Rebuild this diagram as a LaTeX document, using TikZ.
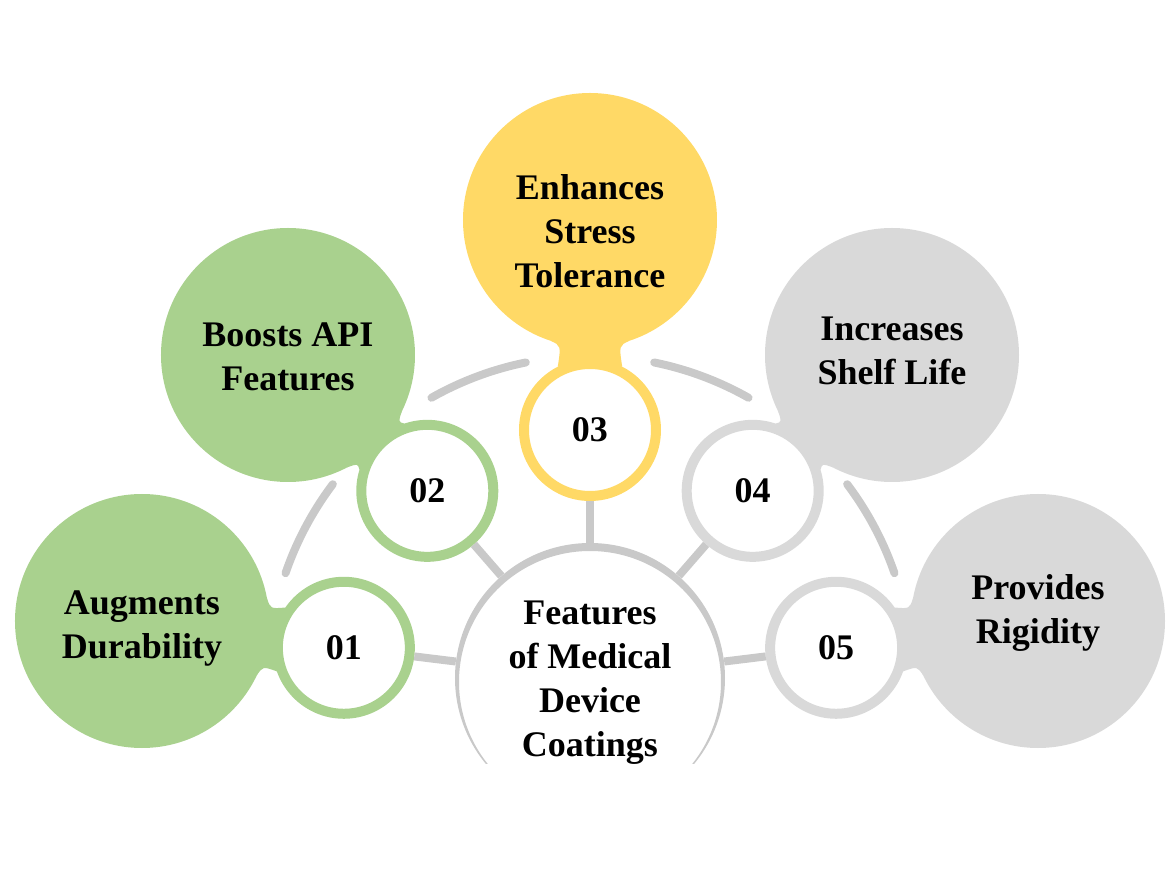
\documentclass[tikz,border=0pt]{standalone}
\usepackage{fontspec}
\setmainfont{Liberation Serif}
\usetikzlibrary{calc,backgrounds}

\definecolor{leafgreen}{HTML}{A9D18E}
\definecolor{sunyellow}{HTML}{FFD966}
\definecolor{softgray}{HTML}{D9D9D9}
\definecolor{linegray}{HTML}{C9C9C9}

\tikzset{
  label font/.style={font=\fontsize{36}{44}\selectfont\bfseries},
  bigcirc/.style={circle, minimum size=254pt, inner sep=0pt, fill=#1},
  bigtext/.style={align=center, label font},
  numring/.style={circle, minimum size=132pt, inner sep=0pt, draw=#1, line width=10pt, fill=white, label font},
  spoke/.style={linegray, line width=8pt},
  guide/.style={linegray, line width=8pt, line cap=round},
}

\begin{document}
\begin{tikzpicture}[x=1pt, y=1pt]
        \useasboundingbox (-590,-200) rectangle (580,678);

        % centre
        \node [circle, minimum size=270pt, inner sep=0pt] (ctr) at (0,0) {};
        \node [bigtext] (title) at ([yshift=-5pt]ctr.center) {Features\\of Medical\\Device\\Coatings};
        \begin{scope}
            \clip (-140,-85) rectangle (140,140);
            \fill [linegray, even odd rule] (0,0) circle (135) (0,-4) circle (131);
        \end{scope}

        % numbered rings
        \node [numring=leafgreen] (n1) at (173:248) {01};
        \node [numring=leafgreen] (n2) at (131:248) {02};
        \node [numring=sunyellow] (n3) at (90:248) {03};
        \node [numring=softgray] (n4) at (49:248) {04};
        \node [numring=softgray] (n5) at (7:248) {05};

        % feature circles
        \node [bigcirc=leafgreen] (b1) at (-448,57) {};
        \node [bigcirc=leafgreen] (b2) at (-302,323) {};
        \node [bigcirc=sunyellow] (b3) at (0,458) {};
        \node [bigcirc=softgray] (b4) at (302,323) {};
        \node [bigcirc=softgray] (b5) at (448,57) {};

        \node [bigtext] (t1) at ([yshift=-8pt]b1.center) {Augments\\Durability};
        \node [bigtext] (t2) at ([yshift=-2pt]b2.center) {Boosts API\\Features};
        \node [bigtext] (t3) at ([yshift=-11pt]b3.center) {Enhances\\Stress\\Tolerance};
        \node [bigtext] (t4) at ([yshift=4pt]b4.center) {Increases\\Shelf Life};
        \node [bigtext] (t5) at ([yshift=8pt]b5.center) {Provides\\Rigidity};

        % necks
        \begin{scope}[on background layer]
            \foreach \i/\c in {1/leafgreen,2/leafgreen,3/sunyellow,4/softgray,5/softgray}
                \fill [\c] ($(b\i.center)!127pt!18:(n\i.center)$)
                    .. controls ($(b\i.center)!129pt!13:(n\i.center)$) .. ($(n\i.center)!71pt!-27:(b\i.center)$)
                    -- ($(n\i.center)!71pt!27:(b\i.center)$)
                    .. controls ($(b\i.center)!129pt!-13:(n\i.center)$) .. ($(b\i.center)!127pt!-18:(n\i.center)$)
                    -- cycle;
        \end{scope}

        \foreach \i in {1,...,5}
            \draw [spoke] (ctr) -- (n\i);

        \foreach \a in {152,110.5,69.5,28}
            \draw [guide] ({\a+9}:322) arc [start angle={\a+9}, end angle={\a-9}, radius=322];
    \end{tikzpicture}
\end{document}
